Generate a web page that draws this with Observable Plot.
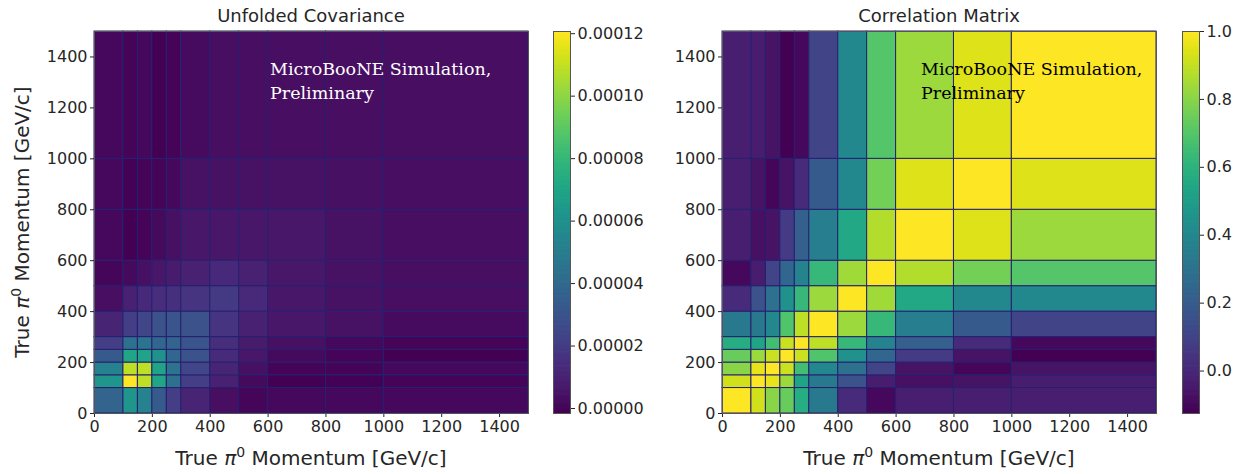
<!DOCTYPE html>
<html><head><meta charset="utf-8">
<script src="https://cdn.jsdelivr.net/npm/d3@7"></script>
<script src="https://cdn.jsdelivr.net/npm/@observablehq/plot@0.6"></script>
<style>
body{margin:0;background:#fff;}
#root{position:relative;width:1241px;height:474px;overflow:hidden;font-family:"DejaVu Sans",sans-serif;color:#262626;}
.abs{position:absolute;}
.title{font-size:18px;text-align:center;width:400px;line-height:20px;}
.alabel{font-size:20px;white-space:nowrap;line-height:24px;text-align:center;width:400px;}
.alabel sup{font-size:0.7em;line-height:0;vertical-align:0.55em;}
.note{font-family:"DejaVu Serif",serif;font-size:17.5px;line-height:24px;white-space:nowrap;}
svg{overflow:visible;}
</style></head><body>
<div id="root"></div>
<script>
// Bin edges (GeV/c) shared by both axes
const binEdges = [0, 100, 150, 200, 250, 300, 400, 500, 600, 800, 1000, 1500];
const axisTicks = [0, 200, 400, 600, 800, 1000, 1200, 1400];

// Unfolded covariance; row i = y bin i (bottom to top), column j = x bin j
const covarianceRows = [
  [3.75e-5, 6.20e-5, 5.22e-5, 3.26e-5, 2.04e-5, 1.06e-5, 0.30e-5, 0.02e-5, 0.08e-5, 0.08e-5, 0.08e-5],
  [6.20e-5, 12.07e-5, 10.85e-5, 7.06e-5, 4.37e-5, 2.04e-5, 0.94e-5, 0.15e-5, -0.16e-5, -0.10e-5, -0.04e-5],
  [5.22e-5, 10.85e-5, 10.85e-5, 6.93e-5, 4.49e-5, 2.41e-5, 1.06e-5, 0.33e-5, -0.04e-5, -0.04e-5, 0.08e-5],
  [3.26e-5, 7.06e-5, 6.93e-5, 5.96e-5, 3.88e-5, 2.90e-5, 1.31e-5, 0.57e-5, 0.15e-5, -0.04e-5, -0.16e-5],
  [2.04e-5, 4.37e-5, 4.49e-5, 3.88e-5, 3.75e-5, 3.02e-5, 1.43e-5, 0.70e-5, 0.33e-5, 0.08e-5, -0.04e-5],
  [1.06e-5, 2.04e-5, 2.41e-5, 2.90e-5, 3.02e-5, 2.90e-5, 1.67e-5, 0.94e-5, 0.57e-5, 0.39e-5, 0.21e-5],
  [0.30e-5, 0.94e-5, 1.20e-5, 1.40e-5, 1.55e-5, 1.67e-5, 1.92e-5, 1.19e-5, 0.57e-5, 0.39e-5, 0.27e-5],
  [0.02e-5, 0.15e-5, 0.33e-5, 0.57e-5, 0.70e-5, 0.94e-5, 1.19e-5, 0.94e-5, 0.57e-5, 0.39e-5, 0.27e-5],
  [0.08e-5, -0.16e-5, -0.04e-5, 0.15e-5, 0.33e-5, 0.57e-5, 0.57e-5, 0.57e-5, 0.57e-5, 0.39e-5, 0.27e-5],
  [0.08e-5, -0.10e-5, -0.04e-5, -0.04e-5, 0.08e-5, 0.39e-5, 0.39e-5, 0.39e-5, 0.39e-5, 0.33e-5, 0.27e-5],
  [0.08e-5, -0.04e-5, 0.08e-5, -0.16e-5, -0.04e-5, 0.21e-5, 0.27e-5, 0.27e-5, 0.27e-5, 0.27e-5, 0.27e-5]
];

// Correlation matrix; row i = y bin i (bottom to top), column j = x bin j
const correlationRows = [
  [1.00, 0.92, 0.80, 0.74, 0.57, 0.33, 0.01, -0.10, -0.03, -0.03, -0.03],
  [0.92, 1.00, 0.96, 0.83, 0.53, 0.33, 0.16, -0.04, -0.08, -0.07, -0.04],
  [0.80, 0.96, 1.00, 0.91, 0.66, 0.40, 0.29, 0.10, -0.07, -0.11, -0.07],
  [0.74, 0.83, 0.91, 1.00, 0.91, 0.69, 0.44, 0.24, 0.07, -0.07, -0.125],
  [0.57, 0.53, 0.66, 0.91, 1.00, 0.89, 0.63, 0.38, 0.21, 0.01, -0.10],
  [0.33, 0.33, 0.40, 0.69, 0.89, 1.00, 0.83, 0.63, 0.35, 0.19, 0.10],
  [0.01, 0.16, 0.29, 0.44, 0.63, 0.83, 1.00, 0.84, 0.55, 0.40, 0.40],
  [-0.10, -0.04, 0.10, 0.24, 0.38, 0.63, 0.84, 1.00, 0.87, 0.76, 0.70],
  [-0.03, -0.08, -0.07, 0.07, 0.21, 0.35, 0.55, 0.87, 1.00, 0.94, 0.83],
  [-0.03, -0.07, -0.11, -0.07, 0.01, 0.19, 0.40, 0.76, 0.94, 1.00, 0.94],
  [-0.03, -0.04, -0.07, -0.125, -0.10, 0.10, 0.40, 0.70, 0.83, 0.94, 1.00]
];

const covTicks = [0, 0.00002, 0.00004, 0.00006, 0.00008, 0.00010, 0.00012];
const corrTicks = [0, 0.2, 0.4, 0.6, 0.8, 1.0];
const titles = ["Unfolded Covariance", "Correlation Matrix"];
const noteLines = ["MicroBooNE Simulation,", "Preliminary"];

const root = document.getElementById("root");
function place(node, left, top) {
  const d = document.createElement("div");
  d.className = "abs";
  d.style.left = left + "px";
  d.style.top = top + "px";
  d.appendChild(node);
  root.appendChild(d);
  return d;
}
function html(str, cls, left, top, extra) {
  const d = document.createElement("div");
  d.className = "abs " + cls;
  d.style.left = left + "px";
  d.style.top = top + "px";
  d.innerHTML = str;
  if (extra) Object.assign(d.style, extra);
  root.appendChild(d);
  return d;
}

const baseStyle = {background: "transparent", fontSize: "16px", fontFamily: "DejaVu Sans, sans-serif", color: "#262626", overflow: "visible"};
const intFmt = d3.format("d");

function heatmap(rows, domain) {
  const cells = [];
  rows.forEach((row, i) => row.forEach((v, j) => cells.push({
    x1: binEdges[j], x2: binEdges[j + 1], y1: binEdges[i], y2: binEdges[i + 1], v
  })));
  return Plot.plot({
    width: 540, height: 474,
    marginLeft: 94, marginRight: 12, marginTop: 31, marginBottom: 61,
    style: baseStyle,
    x: {domain: [0, 1500], ticks: axisTicks, tickFormat: intFmt, tickSize: 4, tickPadding: 3, label: null},
    y: {domain: [0, 1500], ticks: axisTicks, tickFormat: intFmt, tickSize: 4, tickPadding: 3, label: null},
    color: {type: "linear", scheme: "viridis", domain},
    marks: [
      Plot.rect(cells, {x1: "x1", x2: "x2", y1: "y1", y2: "y2", fill: "v", stroke: "#252070", strokeWidth: 1}),
      Plot.frame({stroke: "#555"})
    ]
  });
}

function colorbar(domain, ticks, fmt, width) {
  const n = 300;
  const [lo, hi] = domain;
  const slices = d3.range(n).map(k => ({
    x1: 0, x2: 1,
    y1: lo + (hi - lo) * k / n,
    y2: lo + (hi - lo) * Math.min(n, k + 1.6) / n,
    v: lo + (hi - lo) * (k + 0.5) / n
  }));
  return Plot.plot({
    width, height: 474,
    marginLeft: 0, marginRight: width - 17, marginTop: 31, marginBottom: 61,
    style: baseStyle,
    x: {axis: null, domain: [0, 1]},
    y: {domain, ticks, tickFormat: fmt, axis: "right", tickSize: 4, tickPadding: 3, label: null},
    color: {type: "linear", scheme: "viridis", domain},
    marks: [
      Plot.rect(slices, {x1: "x1", x2: "x2", y1: "y1", y2: "y2", fill: "v"}),
      Plot.frame({stroke: "#555"})
    ]
  });
}

const covDomain = d3.extent(covarianceRows.flat());
const corrDomain = d3.extent(correlationRows.flat());

place(heatmap(covarianceRows, covDomain), 0, 0);
place(colorbar(covDomain, covTicks, d3.format(".5f"), 80), 553, 0);
place(heatmap(correlationRows, corrDomain), 628, 0);
place(colorbar(corrDomain, corrTicks, d3.format(".1f"), 59), 1182, 0);

// titles
html(titles[0], "title", 311 - 200, 6);
html(titles[1], "title", 939 - 200, 6);

// axis labels
const labelHTML = "True <i>π</i><sup>0</sup> Momentum [GeV/c]";
html(labelHTML, "alabel", 311 - 200, 446);
html(labelHTML, "alabel", 939 - 200, 446);
html(labelHTML, "alabel", 22 - 200, 222 - 12, {transform: "rotate(-90deg)", transformOrigin: "200px 12px"});

// annotations
html(noteLines.join("<br>"), "note", 270, 57, {color: "#ffffff"});
html(noteLines.join("<br>"), "note", 921, 57, {color: "#000000"});
</script>
</body></html>
